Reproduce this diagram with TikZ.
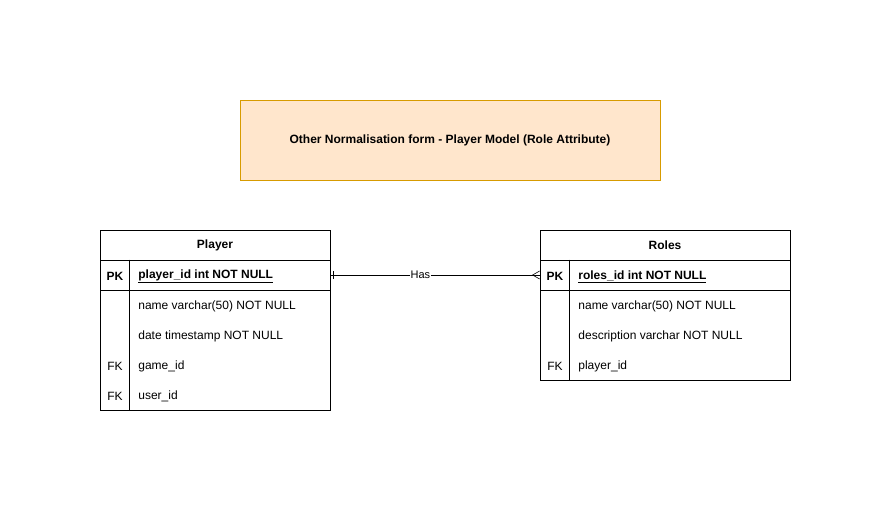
\documentclass[tikz,border=0pt]{standalone}
\usepackage{fontspec}
\setmainfont{Liberation Sans}
\usepackage{tikz}
\usetikzlibrary{calc,positioning}
\definecolor{titlefill}{HTML}{FFE6CC}
\definecolor{titleline}{HTML}{D79B00}

\begin{document}
\begin{tikzpicture}[x=1pt,y=-1pt,line width=0.8pt,
		every node/.style={font=\fontsize{12}{14}\selectfont},
		tblbox/.style={draw, inner sep=0pt, minimum width=#1},
		keytext/.style={inner sep=0pt, yshift=-1.5pt},
		fieldtext/.style={anchor=west, inner sep=0pt, yshift=-1.5pt}]
		\useasboundingbox (0,0) rectangle (891,511);
		\node[draw=titleline, fill=titlefill, minimum width=420pt, minimum height=80pt] (title) at (450,140) {\textbf{Other Normalisation form - Player Model (Role Attribute)}};
		\node[tblbox=230pt, minimum height=30pt] (playerhead) at (215,245) {\raisebox{-1.5pt}{\textbf{Player}}};
		\node[tblbox=230pt, minimum height=30pt] (playerpk) at (215,275) {};
		\node[tblbox=230pt, minimum height=120pt] (playerbody) at (215,350) {};
		\draw ($(playerpk.north west)+(30,0)$) -- ($(playerbody.south west)+(30,0)$);
		\node[keytext] (playerpkkey) at (115,275) {\textbf{PK}};
		\node[fieldtext] (playerpkfield) at (138,275) {\textbf{\underline{player\_id int NOT NULL}}};
		\foreach \k/\t [count=\i] in {/name varchar(50) NOT NULL, /date timestamp NOT NULL, FK/game\_id, FK/user\_id}{
			\node[keytext] (playerkey\i) at (115,275+30*\i) {\k};
			\node[fieldtext] (playerfield\i) at (138,275+30*\i) {\t};
		}
		\node[tblbox=250pt, minimum height=30pt] (roleshead) at (665,245) {\raisebox{-1.5pt}{\textbf{Roles}}};
		\node[tblbox=250pt, minimum height=30pt] (rolespk) at (665,275) {};
		\node[tblbox=250pt, minimum height=90pt] (rolesbody) at (665,335) {};
		\draw ($(rolespk.north west)+(30,0)$) -- ($(rolesbody.south west)+(30,0)$);
		\node[keytext] (roleskey) at (555,275) {\textbf{PK}};
		\node[fieldtext] (rolespkfield) at (578,275) {\textbf{\underline{roles\_id int NOT NULL}}};
		\foreach \k/\t [count=\i] in {/name varchar(50) NOT NULL, /description varchar NOT NULL, FK/player\_id}{
			\node[keytext] (roleskey\i) at (555,275+30*\i) {\k};
			\node[fieldtext] (rolesfield\i) at (578,275+30*\i) {\t};
		}
		\draw[line width=0.6pt] (playerpk.east) -- node[pos=0.43, fill=white, inner sep=0.5pt, font=\fontsize{11}{13}\selectfont] (has) {Has} (rolespk.west);
		\draw[line width=0.6pt] ($(playerpk.east)+(3,-4)$) -- ($(playerpk.east)+(3,4)$);
		\draw[line width=0.6pt] ($(rolespk.west)+(0,-4)$) -- ($(rolespk.west)+(-7,0)$) -- ($(rolespk.west)+(0,4)$);
\end{tikzpicture}
\end{document}
